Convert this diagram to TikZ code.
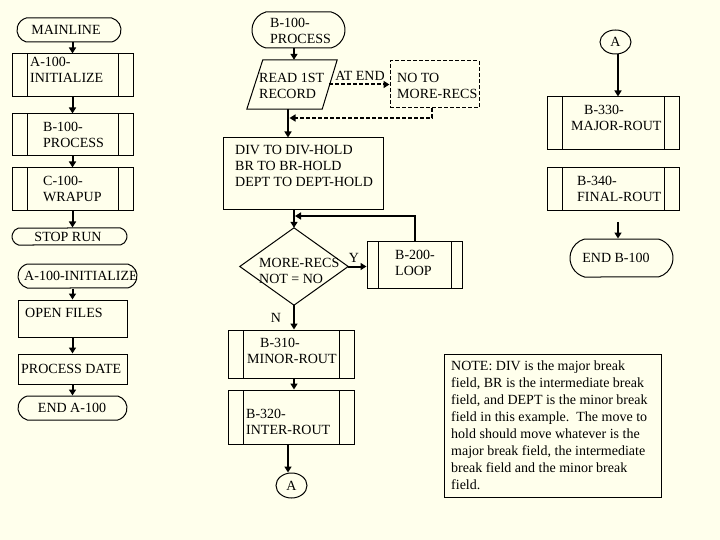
\documentclass[tikz,border=0pt]{standalone}
\usepackage{fontspec}
\setmainfont{Liberation Serif}
\usetikzlibrary{shapes.misc,shapes.geometric,arrows.meta}
\definecolor{bg}{RGB}{255,255,236}
\begin{document}
\begin{tikzpicture}[x=1pt,y=-1pt,
  font=\fontsize{14}{16}\selectfont,
  outline/.style={draw, line width=1pt, inner sep=0pt},
  sz/.style 2 args={minimum width=#1pt, minimum height=#2pt},
  box/.style={outline, rectangle},
  term/.style={outline, rounded rectangle, rounded rectangle arc length=150},
  conn/.style={outline, ellipse},
  predef/.style={outline, rectangle, path picture={
     \draw[line width=1pt] ([xshift=#1]path picture bounding box.north west) -- ([xshift=#1]path picture bounding box.south west)
       ([xshift=-#1]path picture bounding box.north east) -- ([xshift=-#1]path picture bounding box.south east);}},
  predef/.default=15pt,
  hold/.style={inner sep=0pt, rectangle},
  txt/.style={inner sep=0pt, align=left, anchor=west},
  ctxt/.style={inner sep=0pt},
  arr/.style={line width=2pt, -{Triangle[length=6pt,width=7pt]}},
  darr/.style={line width=2pt, dash pattern=on 4pt off 2pt, -{Triangle[length=6pt,width=7pt]}},
  dbox/.style={draw, line width=1pt, dash pattern=on 4pt off 2pt, inner sep=0pt, rectangle}
]
\fill[bg] (0,0) rectangle (720,540);
\useasboundingbox (0,0) rectangle (720,540);

% ---------- left column ----------
\node[term, sz={104}{24}] (main) at (69,30) {};
\node[ctxt] (tmain) at (66,30) {MAINLINE};
\node[predef, sz={121}{43}] (a100) at (72.5,75.5) {};
\node[txt] (ta100) at (30,69.5) {A-100-\\INITIALIZE};
\node[predef, sz={121}{42}] (b100) at (72.5,135) {};
\node[txt] (tb100) at (43,135) {B-100-\\PROCESS};
\node[predef, sz={121}{43}] (c100) at (72.5,189.5) {};
\node[txt] (tc100) at (43,189) {C-100-\\WRAPUP};
\node[term, sz={115}{17}] (stop) at (69.5,236.5) {};
\node[ctxt] (tstop) at (68,237) {STOP RUN};

\node[term, sz={119}{24}] (ainit) at (77.5,276) {};
\node[ctxt] (tainit) at (81,276) {A-100-INITIALIZE};
\node[box, sz={109}{37}] (openf) at (72.5,318.5) {};
\node[txt] (topenf) at (25,313) {OPEN FILES};
\node[box, sz={109}{30}] (procd) at (72.5,369) {};
\node[txt] (tprocd) at (21,369) {PROCESS DATE};
\node[term, sz={109}{24}] (enda) at (72.5,408) {};
\node[ctxt] (tenda) at (72,408) {END A-100};

\draw[arr] (a100.north |- main.south) -- (a100.north);
\draw[arr] (a100) -- (b100);
\draw[arr] (b100) -- (c100);
\draw[arr] (c100.south) -- (c100.south |- stop.north);
\draw[arr] (openf.north |- ainit.south) -- (openf.north);
\draw[arr] (openf) -- (procd);
\draw[arr] (procd) -- (enda);

% ---------- middle column ----------
\node[term, sz={93}{36}] (bproc) at (298.5,30) {};
\node[txt] (tbproc) at (270,31) {B-100-\\PROCESS};
\node[hold, sz={90}{49}] (read) at (292,84.5) {};
\draw[line width=1pt] ([xshift=16pt]read.north west) -- (read.north east)
  -- ([xshift=-15pt]read.south east) -- (read.south west) -- cycle;
\node[txt] (tread) at (259,85.5) {READ 1ST\\RECORD};
\node[dbox, sz={89}{47}] (nomore) at (434.5,84.5) {};
\node[txt] (tnomore) at (397,86) {NO TO\\MORE-RECS};
\node[ctxt] (tatend) at (360,76) {AT END};

\node[box, sz={160}{72}] (div) at (303,174) {};
\node[txt] (tdiv) at (235,166) {DIV TO DIV-HOLD\\BR TO BR-HOLD\\DEPT TO DEPT-HOLD};

\node[hold, sz={108}{77}] (dec) at (294,266.5) {};
\draw[line width=1pt] (dec.north) -- (dec.east) -- (dec.south) -- (dec.west) -- cycle;
\node[txt] (tdec) at (259,271) {MORE-RECS\\NOT = NO};
\node[predef=11pt, sz={95}{47}] (loop) at (414.5,264.5) {};
\node[txt] (tloop) at (395,263) {B-200-\\LOOP};
\node[ctxt] (ty) at (354,258) {Y};
\node[ctxt] (tn) at (276,318) {N};

\node[predef, sz={126}{48}] (b310) at (291,354) {};
\node[txt] (tb310) at (247,351) {\hspace*{13pt}B-310-\\MINOR-ROUT};
\node[predef, sz={126}{54}] (b320) at (291,417) {};
\node[txt] (tb320) at (246,422) {B-320-\\INTER-ROUT};
\node[conn, sz={31}{25}] (ca1) at (291.5,485.5) {A};

\coordinate (j1) at (289.5,118);
\coordinate (j2) at (295,216);

\draw[arr] (bproc.south -| dec.north) -- (read.north -| dec.north);
\draw[arr] ([xshift=-4pt]read.south) -- ([xshift=-4pt]read.south |- div.north);
\draw[darr] ([xshift=-8pt]read.east) -- (nomore.west);
\draw[darr] ([xshift=-2.5pt]nomore.south) |- (j1);
\draw[arr] (dec.north |- div.south) -- (dec.north);
\draw[arr] (dec.east) -- (dec.east -| loop.west);
\draw[arr] (loop.north) |- (j2);
\draw[arr] (dec.south) -- (dec.south |- b310.north);
\draw[arr] ([xshift=3pt]b310.south) -- ([xshift=3pt]b320.north);
\draw[arr] ([xshift=-3pt]b320.south) -- ([xshift=-3pt]b320.south |- ca1.north);

% ---------- right column ----------
\node[conn, sz={31}{24}] (ca2) at (615.5,42) {A};
\node[predef, sz={132}{53}] (b330) at (613,123.5) {};
\node[txt] (tb330) at (571,117.5) {\hspace*{13pt}B-330-\\MAJOR-ROUT};
\node[predef, sz={132}{43}] (b340) at (613,189.5) {};
\node[txt] (tb340) at (577,189) {B-340-\\FINAL-ROUT};
\node[term, sz={103}{38}] (endb) at (621.5,258) {};
\node[ctxt] (tendb) at (616,258) {END B-100};
\coordinate (fa) at (618,222);

\draw[arr] ([xshift=2.5pt]ca2.south) -- ([xshift=2.5pt]ca2.south |- b330.north);
\draw[arr] (fa) -- (fa |- endb.north);

% ---------- note ----------
\node[box, sz={217}{143}] (note) at (552.5,425.5) {};
\node[txt, font=\fontsize{14}{17}\selectfont] (tnote) at (451,425) {NOTE: DIV is the major break\\
field, BR is the intermediate break\\
field, and DEPT is the minor break\\
field in this example.\ \ The move to\\
hold should move whatever is the\\
major break field, the intermediate\\
break field and the minor break\\
field.};
\end{tikzpicture}
\end{document}
